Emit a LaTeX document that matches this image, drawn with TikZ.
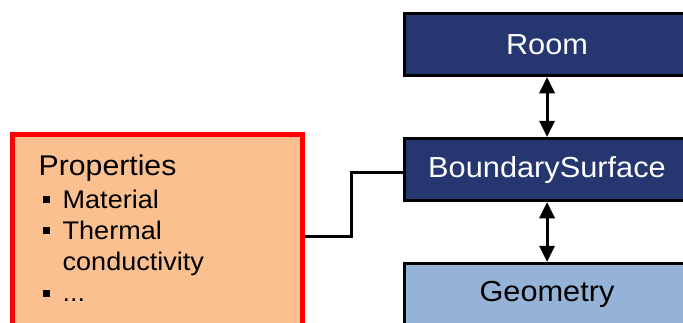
\documentclass[tikz,border=0pt]{standalone}
\usepackage{fontspec}
\setmainfont{Liberation Sans}
\newfontfamily\arialx[FakeStretch=1.06]{Liberation Sans}
\usetikzlibrary{arrows.meta}
\definecolor{navyfill}{RGB}{38,54,112}
\definecolor{lightbluefill}{RGB}{149,179,215}
\definecolor{peachfill}{RGB}{250,192,144}
\newcommand\sqbullet{\rule[5pt]{7pt}{7pt}}
\begin{document}
\begin{tikzpicture}[x=1pt,y=-1pt,
  classbox/.style={draw=black,line width=3pt,minimum width=285.5pt,minimum height=62.5pt,inner sep=0pt,
    font=\arialx\fontsize{29}{34}\selectfont},
  darkbox/.style={classbox,fill=navyfill,text=white},
  lightbox/.style={classbox,fill=lightbluefill,text=black},
  propbox/.style={draw=red,line width=5.5pt,fill=peachfill,minimum width=290pt,minimum height=203pt,inner sep=0pt},
  titletext/.style={anchor=base west,inner sep=0pt,font=\arialx\fontsize{28.5}{31}\selectfont},
  bullettext/.style={anchor=base west,inner sep=0pt,font=\arialx\fontsize{25.5}{31}\selectfont},
  link/.style={line width=3pt},
  tipstyle/.tip={Triangle[length=16pt,width=16pt,line width=0pt]},
  biarrow/.style={line width=3pt,tipstyle-tipstyle}]
\useasboundingbox (0,0) rectangle (683,322);
\begin{scope}
  \clip (0,0) rectangle (683,322);
  \node[darkbox] (room) at (547,44.5) {Room};
  \node[darkbox] (bs) at (547,169.5) {BoundarySurface};
  \node[lightbox] (geo) at (547,294.5) {Geometry};
  \node[propbox] (props) at (157.5,236) {};
\end{scope}
\node[titletext] (ptitle) at (38.5,175.7) {Properties};
\node[bullettext] (b1) at (43,208.3) {\makebox[19.5pt][l]{\sqbullet}Material};
\node[bullettext] (b2) at (43,239.3) {\makebox[19.5pt][l]{\sqbullet}Thermal};
\node[bullettext] (b2b) at (43,270.7) {\makebox[19.5pt][l]{}conductivity};
\node[bullettext] (b3) at (43,301.7) {\makebox[19.5pt][l]{\sqbullet}...};
\draw[biarrow] (room.south) -- (bs.north);
\draw[biarrow] (bs.south) -- (geo.north);
\coordinate (jx) at (351,200);
\coordinate (bsin) at ([yshift=-2.5pt]bs.west);
\draw[link] (props.east) -| (jx) |- (bsin);
\end{tikzpicture}
\end{document}
